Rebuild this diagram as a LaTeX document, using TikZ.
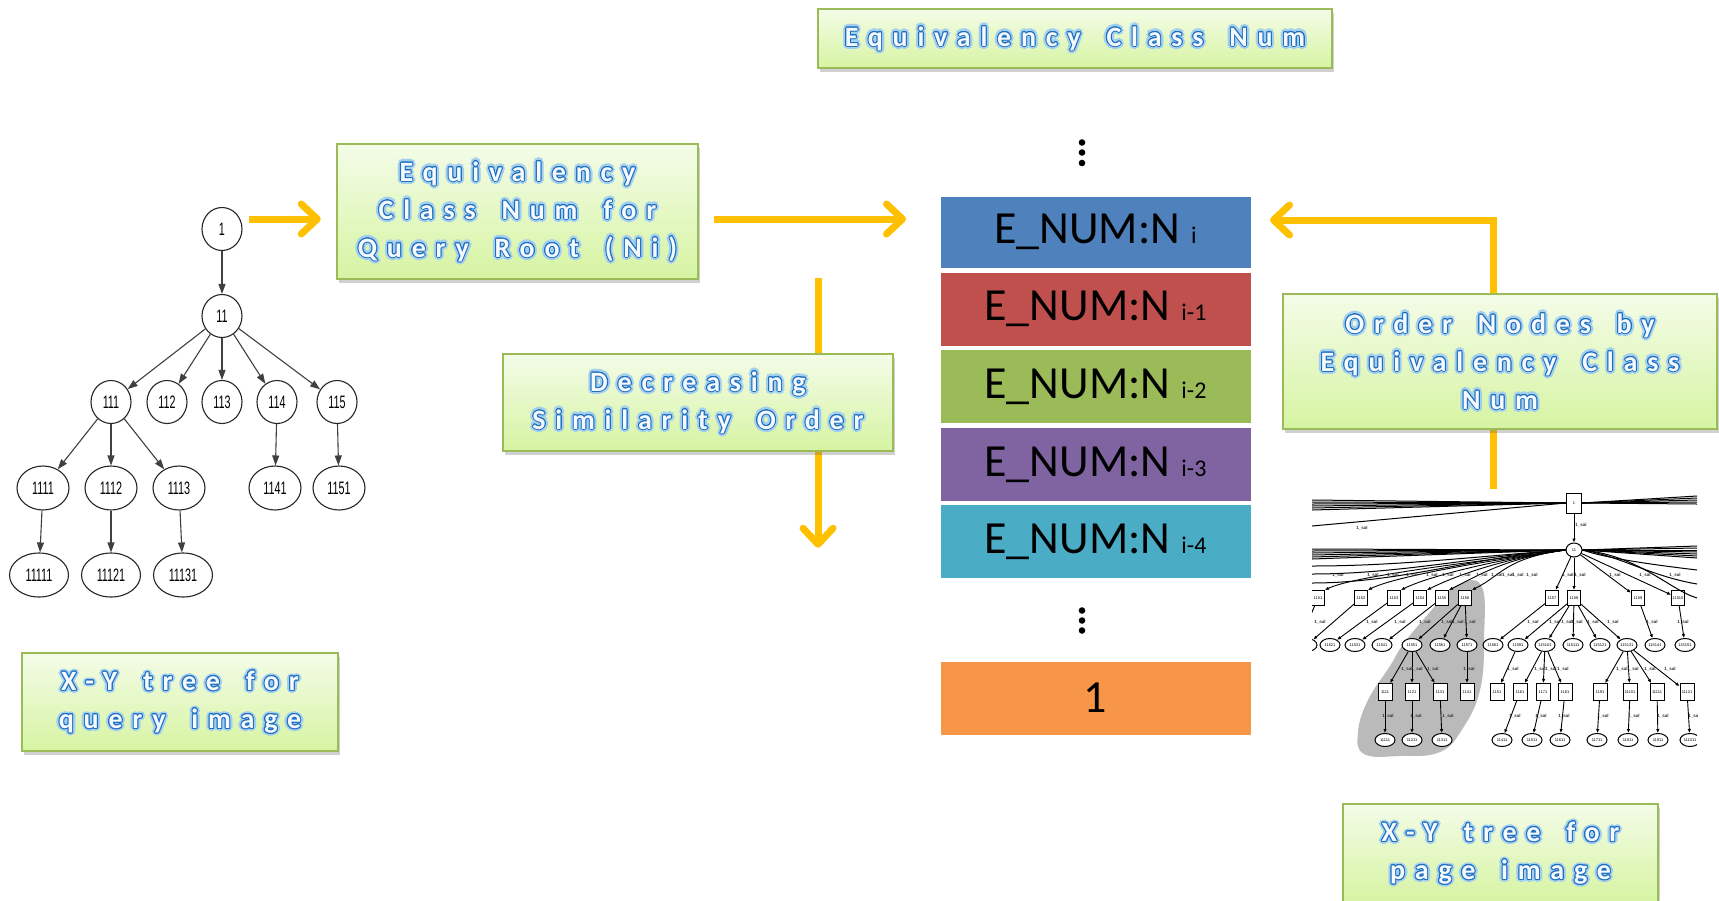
\documentclass[tikz,border=0pt]{standalone}
\usepackage{fontspec}
\setmainfont{Carlito}
\newfontfamily\glowfont[LetterSpace=35,WordSpace=1.6]{Carlito}
\newfontfamily\treefont[FakeStretch=0.6]{Liberation Sans}
\newfontfamily\tinyfont{Liberation Sans}
\usetikzlibrary{arrows.meta,shadows,shapes.geometric,calc}

\definecolor{gold}{HTML}{FFC000}
\definecolor{boxtop}{HTML}{F4FCE8}
\definecolor{boxbot}{HTML}{D6F4A2}
\definecolor{boxline}{HTML}{9BBB59}
\definecolor{glowc}{HTML}{A3CFEE}
\definecolor{edgec}{HTML}{1F6FBF}
\definecolor{fillc}{HTML}{F6FAFE}
\definecolor{eblue}{HTML}{4F81BD}
\definecolor{ered}{HTML}{C0504D}
\definecolor{egreen}{HTML}{9BBB59}
\definecolor{epurple}{HTML}{8064A2}
\definecolor{ecyan}{HTML}{4BACC6}
\definecolor{eorange}{HTML}{F79646}

% glowing outlined lettering: soft halo, blue rim, pale face
\newcommand\gcp[3]{\rlap{\hspace*{#1}\smash{\raisebox{#2}{#3}}}}
\newcommand\gring[3]{\textcolor{#1}{%
  \gcp{#2}{0pt}{#3}\gcp{-#2}{0pt}{#3}\gcp{0pt}{#2}{#3}\gcp{0pt}{-#2}{#3}%
  \gcp{\dimexpr#2*7/10\relax}{\dimexpr#2*7/10\relax}{#3}%
  \gcp{\dimexpr-#2*7/10\relax}{\dimexpr#2*7/10\relax}{#3}%
  \gcp{\dimexpr#2*7/10\relax}{\dimexpr-#2*7/10\relax}{#3}%
  \gcp{\dimexpr-#2*7/10\relax}{\dimexpr-#2*7/10\relax}{#3}}}
\newcommand\gl[1]{\gring{glowc}{3.3pt}{#1}\gring{glowc}{2.3pt}{#1}%
  \gring{edgec}{1.1pt}{#1}\gring{edgec}{0.6pt}{#1}\textcolor{fillc}{#1}}
\newcommand\subsz{\fontsize{24}{24}\selectfont}

\pgfdeclarelayer{under}
\pgfsetlayers{under,main}

\tikzset{
  greenbox/.style={draw=boxline, line width=1.5pt, top color=boxtop, bottom color=boxbot,
    drop shadow={shadow xshift=2pt, shadow yshift=-4pt, opacity=.3, fill=black!60},
    inner sep=0pt, align=center, font=\glowfont\bfseries\fontsize{28}{38}\selectfont},
  garrow/.style={draw=gold, line width=7pt, -{Straight Barb[length=16pt,width=30pt,round]}},
  estack/.style={minimum width=311pt, minimum height=74pt, inner sep=0pt, draw=white,
    line width=1pt, text=black, font=\fontsize{46}{46}\selectfont},
  tnode/.style={draw=black!85, line width=1.1pt, ellipse, inner sep=0pt, fill=white,
    minimum width=40pt, minimum height=43pt, font=\treefont\fontsize{18}{18}\selectfont},
  tnode4/.style={tnode, minimum width=52pt, minimum height=44pt},
  tnode5/.style={tnode, minimum width=59pt, minimum height=44pt},
  tedge/.style={draw=black!75, line width=1.1pt, -{Triangle[length=10pt,width=7pt]}},
  rbox/.style={draw, line width=1pt, fill=white, minimum width=13pt, minimum height=15pt,
    inner sep=0pt, font=\tinyfont\fontsize{4}{4}\selectfont},
  rell/.style={draw, ellipse, line width=1pt, fill=white, minimum width=20pt,
    minimum height=13pt, inner sep=0pt, font=\tinyfont\fontsize{4}{4}\selectfont},
  rline/.style={draw=black, line width=1pt},
  rarr/.style={draw=black, line width=.9pt, -{Latex[length=4pt,width=3.5pt]}},
  rlab/.style={inner sep=0pt, text=black!80, font=\tinyfont\bfseries\fontsize{4.5}{4.5}\selectfont},
}

\begin{document}
\begin{tikzpicture}[x=1pt,y=-1pt]
\useasboundingbox (0,0) rectangle (1719,900);
\begin{pgfonlayer}{under}
  \fill[white] (0,0) rectangle (1719,900);
\end{pgfonlayer}

% ---------- labelled boxes ----------
\node[greenbox, minimum width=514pt, minimum height=59pt] (topbox) at (1075,38.5)
  {\gl{Equivalency Class Num}};
\node[greenbox, minimum width=361pt, minimum height=135pt] (qbox) at (517.5,211.5)
  {\gl{Equivalency}\\\gl{Class Num for}\\\gl{Query Root (Ni)}};
\node[greenbox, minimum width=390pt, minimum height=97pt] (dbox) at (698,402.5)
  {\gl{Decreasing}\\\gl{Similarity Order}};
\node[greenbox, minimum width=434pt, minimum height=135pt] (obox) at (1500,361.5)
  {\gl{Order Nodes by}\\\gl{Equivalency Class}\\\gl{Num}};
\node[greenbox, minimum width=316pt, minimum height=98pt] (xyq) at (180,702)
  {\gl{X-Y tree for}\\\gl{query image}};
\node[greenbox, minimum width=315pt, minimum height=98pt] (xyp) at (1500.5,853)
  {\gl{X-Y tree for}\\\gl{page image}};

% ---------- equivalency class stack ----------
\node[estack, fill=eblue, minimum height=72pt] (s1) at (1095.5,232) {E\_NUM:N\hspace{11pt}{\subsz i}};
\node[estack, fill=ered] (s2) at (1095.5,309) {E\_NUM:N\hspace{11pt}{\subsz i-1}};
\node[estack, fill=egreen] (s3) at (1095.5,386.5) {E\_NUM:N\hspace{11pt}{\subsz i-2}};
\node[estack, fill=epurple] (s4) at (1095.5,464.5) {E\_NUM:N\hspace{11pt}{\subsz i-3}};
\node[estack, fill=ecyan] (s5) at (1095.5,541.5) {E\_NUM:N\hspace{11pt}{\subsz i-4}};
\node[estack, fill=eorange] (s6) at (1095.5,698) {1};
\foreach \y in {142.5,152.5,163} \fill (1082,\y) circle (3.3pt);
\foreach \y in {610.5,620.5,630.5} \fill (1082,\y) circle (3.3pt);

% ---------- query tree ----------
\node[tnode] (n1) at (222,229) {1};
\node[tnode] (n11) at (222,316) {11};
\node[tnode] (n111) at (111,402) {111};
\node[tnode] (n112) at (167,402) {112};
\node[tnode] (n113) at (222,402) {113};
\node[tnode] (n114) at (277,402) {114};
\node[tnode] (n115) at (337,402) {115};
\node[tnode4] (n1111) at (43,488) {1111};
\node[tnode4] (n1112) at (111,488) {1112};
\node[tnode4] (n1113) at (179,488) {1113};
\node[tnode4] (n1141) at (275,488) {1141};
\node[tnode4] (n1151) at (339,488) {1151};
\node[tnode5] (n11111) at (39,575) {11111};
\node[tnode5] (n11121) at (111,575) {11121};
\node[tnode5] (n11131) at (183,575) {11131};
\foreach \a/\b in {n1/n11, n11/n111, n11/n112, n11/n113, n11/n114, n11/n115,
  n111/n1111, n111/n1112, n111/n1113, n114/n1141, n115/n1151,
  n1111/n11111, n1112/n11121, n1113/n11131}
  \draw[tedge] (\a) -- (\b);

% ---------- page tree ----------
\begin{scope}
\clip (1312,490) rectangle (1697,757);
\fill[black!27] plot[smooth cycle, tension=0.7] coordinates {(1452,588) (1481,585) (1484,640)
  (1480,690) (1463,728) (1440,752) (1400,756) (1364,754) (1358,732) (1368,700) (1390,666)
  (1404,643) (1430,612)};
\node[rbox, minimum width=15pt, minimum height=20pt] (r0) at (1574,503) {1};
\node[rell, minimum width=16pt, minimum height=14pt] (r1) at (1574,550) {11};
\foreach \x [count=\i] in {1318,1361,1394,1420,1442,1465,1552,1574,1638,1678}
  \node[rbox] (b2-\i) at (\x,598) {115\i};
\foreach \x [count=\i] in {1307,1330,1355,1382,1412,1440,1467,1493,1518,1545,1573,1600,1627,1655,1685}
  \node[rell] (e3-\i) at (\x,645) {115\i1};
\foreach \x [count=\i] in {1385,1412,1440,1467,1497,1520,1543,1565,1600,1630,1657,1687}
  \node[rbox, minimum width=14pt, minimum height=17pt] (b4-\i) at (\x,692) {11\i1};
\foreach \x [count=\i] in {1385,1412,1442,1502,1532,1560,1597,1628,1658,1690}
  \node[rell] (e5-\i) at (\x,740) {11\i11};

\draw[rarr] (r0) -- (r1);
\foreach \y in {500,502,504,506,508,510} \draw[rline] (1312,\y) -- (r0.west);
\foreach \y in {496,498,500,502,504} \draw[rline] (1697,\y) -- (r0.east);
\draw[rline] (1312,526) -- (r0.west);
\foreach \y in {549,551,553,555,557,559} \draw[rline] (1312,\y) -- (r1.west);
\foreach \y in {546,548,550,552,554,556,558} \draw[rline] (1697,\y) -- (r1.east);
\foreach \i in {1,...,6}
  \draw[rarr] (r1.west) .. controls +(-60,8) and +(30,-15) .. (b2-\i.north east);
\foreach \y in {566,574,583} \draw[rline] (r1.west) .. controls (1480,556) and (1400,\y) .. (1312,\y);
\foreach \y/\c in {570/1630,584/1650,598/1670}
  \draw[rline] (r1.east) .. controls (\c-30,556) and (\c,\y-8) .. (1697,\y);
\foreach \i in {7,8,9,10} \draw[rarr] (r1) -- (b2-\i);
\foreach \a/\b in {2/1,3/2,4/3,5/4,6/5,6/6,6/7,7/8,8/9,8/10,8/11,8/12,8/13,9/14,10/15}
  \draw[rarr] (b2-\a) -- (e3-\b);
\draw[rline] (b2-1) -- (1300,640);
\foreach \a/\b in {5/1,5/2,5/3,7/4,9/5,10/6,10/7,10/8,13/9,13/10,13/11,13/12}
  \draw[rarr] (e3-\a) -- (b4-\b);
\foreach \a/\b in {1/1,2/2,3/3,6/4,7/5,8/6,9/7,10/8,11/9,12/10}
  \draw[rarr] (b4-\a) -- (e5-\b);

\node[rlab] (lt1) at (1362,528) {1\_sal};
\node[rlab] (lt2) at (1581,525) {1\_sal};
\foreach \x [count=\i] in {1338,1373,1393,1412,1432,1448,1465,1482,1497,1508,1518,1532,1568,1580,1615,1645,1675}
  \node[rlab] (la\i) at (\x,575) {1\_sal};
\foreach \x [count=\i] in {1320,1372,1400,1425,1447,1458,1470,1533,1555,1567,1577,1593,1613,1652,1683}
  \node[rlab] (lb\i) at (\x,622) {1\_sal};
\foreach \x [count=\i] in {1407,1417,1433,1469,1513,1540,1551,1563,1622,1633,1650,1670}
  \node[rlab] (lc\i) at (\x,669) {1\_sal};
\foreach \x [count=\i] in {1388,1416,1448,1515,1541,1564,1603,1634,1663,1694}
  \node[rlab] (ld\i) at (\x,716) {1\_sal};
\end{scope}

% ---------- flow arrows ----------
\begin{pgfonlayer}{under}
  \draw[garrow] ($(n1.east)+(6,-10)$) -- ($(qbox.west)+(-15.5,7.5)$);
  \draw[garrow] ($(qbox.east)+(15,7.5)$) -- ($(s1.west)+(-33.5,-13)$);
  \draw[garrow] ($(dbox.north)+(120,-75)$) -- ($(dbox.south)+(120,96)$);
  \draw[garrow] ($(obox.south)+(-7,59)$) |- ($(s1.east)+(18.5,-12)$);
\end{pgfonlayer}
\end{tikzpicture}
\end{document}
